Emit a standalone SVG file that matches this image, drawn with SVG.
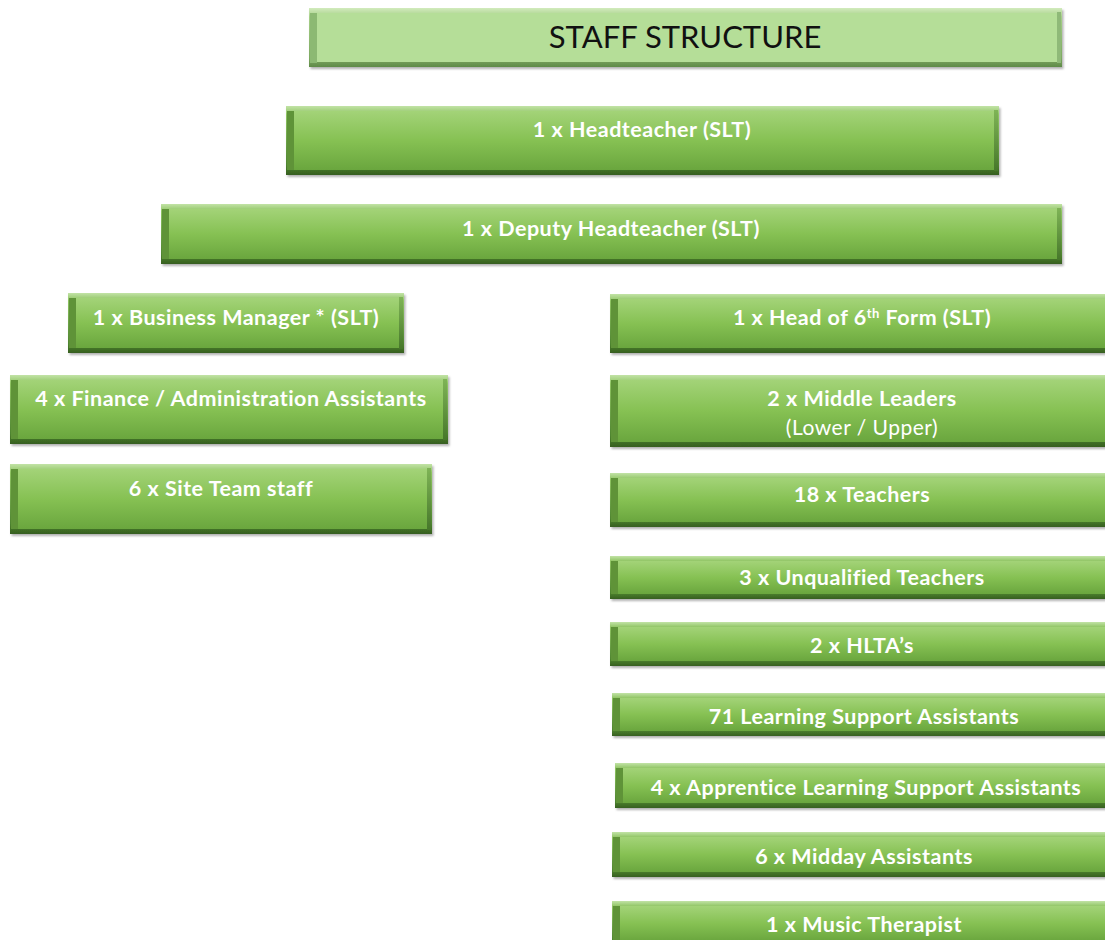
<svg xmlns="http://www.w3.org/2000/svg" width="1105" height="940" viewBox="0 0 1105 940">
<defs>
<linearGradient id="rimG" x1="0" y1="0" x2="0" y2="1">
<stop offset="0" stop-color="#c2e3a6"/><stop offset="0.12" stop-color="#8fc463"/><stop offset="0.85" stop-color="#4f8530"/><stop offset="1" stop-color="#365f1f"/>
</linearGradient>
<linearGradient id="faceG" x1="0" y1="0" x2="0" y2="1">
<stop offset="0" stop-color="#a3d378"/><stop offset="0.5" stop-color="#86c153"/><stop offset="1" stop-color="#6aa63e"/>
</linearGradient>
<linearGradient id="rbG" x1="0" y1="0" x2="0" y2="1">
<stop offset="0" stop-color="#7fb456"/><stop offset="1" stop-color="#46772a"/>
</linearGradient>
<linearGradient id="rimT" x1="0" y1="0" x2="0" y2="1">
<stop offset="0" stop-color="#d2ebbd"/><stop offset="0.15" stop-color="#a6cf88"/><stop offset="0.85" stop-color="#7eaa62"/><stop offset="1" stop-color="#5f8a48"/>
</linearGradient>
<filter id="sh" x="-5%" y="-20%" width="110%" height="150%">
<feDropShadow dx="1.5" dy="2" stdDeviation="1.2" flood-color="#000" flood-opacity="0.3"/>
</filter>
</defs>
<style>
.rim{fill:url(#rimG);filter:url(#sh)}
.face{fill:url(#faceG)}
.lb{fill:#5f9338}
.rb{fill:url(#rbG)}
.t{font-family:Lato,"Liberation Sans",sans-serif;font-weight:bold;font-size:21.5px;letter-spacing:0.5px;fill:#ffffff;text-anchor:middle}
.t2{font-family:Lato,"Liberation Sans",sans-serif;font-weight:normal;font-size:21px;letter-spacing:0.5px;fill:#ffffff;text-anchor:middle}
.title{font-family:Lato,"Liberation Sans",sans-serif;font-size:31px;fill:#111;text-anchor:middle}
</style>
<rect width="1105" height="940" fill="#ffffff"/>

<g id="title">
<rect x="309" y="8" width="753" height="59" fill="url(#rimT)" filter="url(#sh)"/>
<rect x="310" y="13" width="7" height="50" fill="#8cb973"/>
<rect x="1057" y="12" width="4" height="51" fill="#8fb978"/>
<rect x="317" y="13" width="740" height="49" fill="#b5de98"/>
<text class="title" x="685" y="48">STAFF STRUCTURE</text>
</g>

<g id="headteacher">
<rect class="rim" x="286" y="106" width="713" height="69"/>
<rect class="lb" x="287" y="111" width="7" height="59"/>
<rect class="rb" x="994" y="110" width="4" height="61"/>
<rect class="face" x="294" y="111" width="700" height="59"/>
<text class="t" x="642" y="137">1 x Headteacher (SLT)</text>
</g>

<g id="deputy">
<rect class="rim" x="161" y="204" width="901" height="60"/>
<rect class="lb" x="162" y="209" width="7" height="50"/>
<rect class="rb" x="1057" y="208" width="4" height="52"/>
<rect class="face" x="169" y="209" width="888" height="50"/>
<text class="t" x="611" y="236">1 x Deputy Headteacher (SLT)</text>
</g>

<g id="business-manager">
<rect class="rim" x="68" y="293" width="336" height="60"/>
<rect class="lb" x="69" y="298" width="7" height="50"/>
<rect class="rb" x="399" y="297" width="4" height="52"/>
<rect class="face" x="76" y="298" width="323" height="50"/>
<text class="t" x="236" y="325">1 x Business Manager * (SLT)</text>
</g>

<g id="finance">
<rect class="rim" x="10" y="375" width="438" height="69"/>
<rect class="lb" x="11" y="380" width="7" height="59"/>
<rect class="rb" x="443" y="379" width="4" height="61"/>
<rect class="face" x="18" y="380" width="425" height="59"/>
<text class="t" x="231" y="406">4 x Finance / Administration Assistants</text>
</g>

<g id="site-team">
<rect class="rim" x="10" y="464" width="422" height="70"/>
<rect class="lb" x="11" y="469" width="7" height="60"/>
<rect class="rb" x="427" y="468" width="4" height="62"/>
<rect class="face" x="18" y="469" width="409" height="60"/>
<text class="t" x="221" y="496">6 x Site Team staff</text>
</g>

<g id="head-6th-form">
<rect class="rim" x="610" y="294" width="504" height="59"/>
<rect class="lb" x="611" y="299" width="7" height="49"/>
<rect class="face" x="618" y="299" width="491" height="49"/>
<text class="t" x="862" y="325">1 x Head of 6<tspan font-size="13" dy="-7">th</tspan><tspan dy="7"> Form (SLT)</tspan></text>
</g>

<g id="middle-leaders">
<rect class="rim" x="610" y="375" width="504" height="72"/>
<rect class="lb" x="611" y="380" width="7" height="62"/>
<rect class="face" x="618" y="380" width="491" height="62"/>
<text class="t" x="862" y="406">2 x Middle Leaders</text>
<text class="t2" x="862" y="435">(Lower / Upper)</text>
</g>

<g id="teachers">
<rect class="rim" x="610" y="473" width="504" height="54"/>
<rect class="lb" x="611" y="478" width="7" height="44"/>
<rect class="face" x="618" y="478" width="491" height="44"/>
<text class="t" x="862" y="502">18 x Teachers</text>
</g>

<g id="unqualified-teachers">
<rect class="rim" x="610" y="556" width="504" height="43"/>
<rect class="lb" x="611" y="561" width="7" height="33"/>
<rect class="face" x="618" y="561" width="491" height="33"/>
<text class="t" x="862" y="585">3 x Unqualified Teachers</text>
</g>

<g id="hltas">
<rect class="rim" x="610" y="622" width="504" height="44"/>
<rect class="lb" x="611" y="627" width="7" height="34"/>
<rect class="face" x="618" y="627" width="491" height="34"/>
<text class="t" x="862" y="653">2 x HLTA’s</text>
</g>

<g id="lsa">
<rect class="rim" x="612" y="693" width="504" height="43"/>
<rect class="lb" x="613" y="698" width="7" height="33"/>
<rect class="face" x="620" y="698" width="491" height="33"/>
<text class="t" x="864" y="724">71 Learning Support Assistants</text>
</g>

<g id="apprentice-lsa">
<rect class="rim" x="615" y="763" width="504" height="45"/>
<rect class="lb" x="616" y="768" width="7" height="35"/>
<rect class="face" x="623" y="768" width="491" height="35"/>
<text class="t" x="866" y="795">4 x Apprentice Learning Support Assistants</text>
</g>

<g id="midday-assistants">
<rect class="rim" x="612" y="832" width="504" height="45"/>
<rect class="lb" x="613" y="837" width="7" height="35"/>
<rect class="face" x="620" y="837" width="491" height="35"/>
<text class="t" x="864" y="864">6 x Midday Assistants</text>
</g>

<g id="music-therapist">
<rect class="rim" x="612" y="901" width="504" height="45"/>
<rect class="lb" x="613" y="906" width="7" height="35"/>
<rect class="face" x="620" y="906" width="491" height="35"/>
<text class="t" x="864" y="932">1 x Music Therapist</text>
</g>

<g id="connectors"></g>
</svg>
